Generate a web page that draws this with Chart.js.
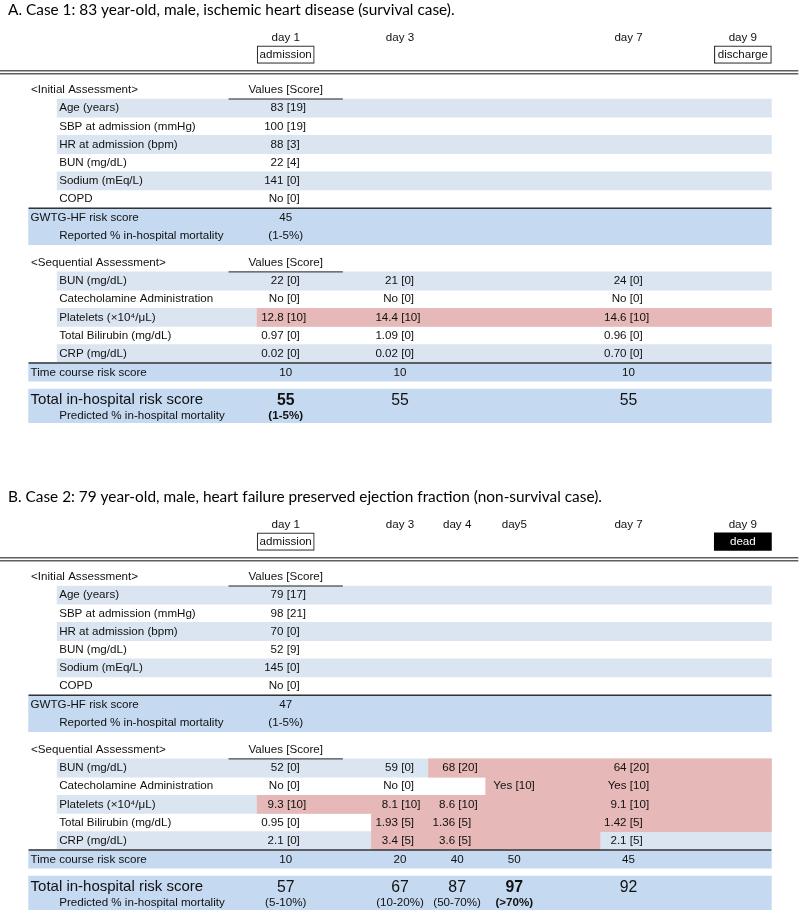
<!DOCTYPE html>
<html><head><meta charset="utf-8">
<script src="https://cdn.jsdelivr.net/npm/chart.js@4.4.1/dist/chart.umd.min.js"></script>
<style>html,body{margin:0;padding:0;background:#fff;}#wrap{width:800px;height:912px;}</style>
</head><body><div id="wrap"><canvas id="c" width="800" height="912"></canvas></div>
<script>
// ================= DATA =================
const titleA = 'A. Case 1: 83 year-old, male, ischemic heart disease (survival case).';
const titleB = 'B. Case 2: 79 year-old, male, heart failure preserved ejection fraction (non-survival case).';

const headerDaysA = [1, 3, 7, 9];
const headerLabelsA = ['day 1', 'day 3', 'day 7', 'day 9'];
const headerDaysB = [1, 3, 4, 5, 7, 9];
const headerLabelsB = ['day 1', 'day 3', 'day 4', 'day5', 'day 7', 'day 9'];

const eventDaysA = [1, 9];
const eventLabelsA = ['admission', 'discharge'];
const eventFilledA = [false, false];
const eventDaysB = [1, 9];
const eventLabelsB = ['admission', 'dead'];
const eventFilledB = [false, true];

const initialLabels = ['Age (years)', 'SBP at admission (mmHg)', 'HR at admission (bpm)', 'BUN (mg/dL)', 'Sodium (mEq/L)', 'COPD'];
const initialValuesA = ['83', '100', '88', '22', '141', 'No'];
const initialScoresA = [19, 19, 3, 4, 0, 0];
const initialValuesB = ['79', '98', '70', '52', '145', 'No'];
const initialScoresB = [17, 21, 0, 9, 0, 0];

const gwtgScoreA = '45';
const gwtgMortalityA = '(1-5%)';
const gwtgScoreB = '47';
const gwtgMortalityB = '(1-5%)';

const seqLabels = ['BUN (mg/dL)', 'Catecholamine Administration', 'Platelets (\u00d710\u2074/\u03bcL)', 'Total Bilirubin (mg/dL)', 'CRP (mg/dL)'];

const seqDaysA = [1, 3, 7];
const bunA = ['22', '21', '24'];           const bunScoreA = [0, 0, 0];
const catA = ['No', 'No', 'No'];           const catScoreA = [0, 0, 0];
const pltA = ['12.8', '14.4', '14.6'];     const pltScoreA = [10, 10, 10];
const tbilA = ['0.97', '1.09', '0.96'];    const tbilScoreA = [0, 0, 0];
const crpA = ['0.02', '0.02', '0.70'];     const crpScoreA = [0, 0, 0];
const timeScoreA = ['10', '10', '10'];
const totalScoreA = ['55', '55', '55'];
const totalBoldA = [true, false, false];
const predictedA = ['(1-5%)', '', ''];
const predictedBoldA = [true, false, false];

const seqDaysB = [1, 3, 4, 5, 7];
const bunB = ['52', '59', '68', null, '64'];        const bunScoreB = [0, 0, 20, null, 20];
const catB = ['No', 'No', null, 'Yes', 'Yes'];      const catScoreB = [0, 0, null, 10, 10];
const pltB = ['9.3', '8.1', '8.6', null, '9.1'];    const pltScoreB = [10, 10, 10, null, 10];
const tbilB = ['0.95', '1.93', '1.36', null, '1.42']; const tbilScoreB = [0, 5, 5, null, 5];
const crpB = ['2.1', '3.4', '3.6', null, '2.1'];    const crpScoreB = [0, 5, 5, null, 5];
const timeScoreB = ['10', '20', '40', '50', '45'];
const totalScoreB = ['57', '67', '87', '97', '92'];
const totalBoldB = [false, false, false, true, false];
const predictedB = ['(5-10%)', '(10-20%)', '(50-70%)', '(>70%)', ''];
const predictedBoldB = [false, false, false, true, false];

// highlighted (red) cells: sequential row index, first day, last day
const highlightRowsA = [2];
const highlightFromA = [1];
const highlightToA = [9];
const highlightRowsB = [0, 1, 2, 3, 4];
const highlightFromB = [4, 5, 1, 3, 3];
const highlightToB = [9, 9, 9, 9, 6];

// ================= LAYOUT (row units) =================
const ROW_PX = 18.2;
const Y_MIN = -99 / ROW_PX;
const Y_MAX = Y_MIN + 912 / ROW_PX;
const L = {
  title: -4.9, dayText: -3.35, box: -2.44, boxH: 0.97,
  dbl1: -1.55, dbl2: -1.39, initHead: -0.5,
  gwtgTop: 6, gwtgText: 6.52, reportText: 7.53,
  seqHead: 8.98, seqTop: 9.5, timeRow: 15.03,
  totalTop: 15.94, totalBot: 17.79, totalText: 16.55, predText: 17.43
};
const COL_LEFT = -4, COL_RIGHT = 10;
const BAND_L = -3, BAND_L2 = -3.5, BAND_R = 9.5;

const cases = [
  {offset: 0, title: titleA, headerDays: headerDaysA, headerLabels: headerLabelsA,
   eventDays: eventDaysA, eventLabels: eventLabelsA, eventFilled: eventFilledA,
   initValues: initialValuesA, initScores: initialScoresA, gwtg: gwtgScoreA, gwtgMort: gwtgMortalityA,
   seqDays: seqDaysA, seqValues: [bunA, catA, pltA, tbilA, crpA], seqScores: [bunScoreA, catScoreA, pltScoreA, tbilScoreA, crpScoreA],
   time: timeScoreA, total: totalScoreA, totalBold: totalBoldA, pred: predictedA, predBold: predictedBoldA,
   hlRows: highlightRowsA, hlFrom: highlightFromA, hlTo: highlightToA},
  {offset: 487 / ROW_PX, title: titleB, headerDays: headerDaysB, headerLabels: headerLabelsB,
   eventDays: eventDaysB, eventLabels: eventLabelsB, eventFilled: eventFilledB,
   initValues: initialValuesB, initScores: initialScoresB, gwtg: gwtgScoreB, gwtgMort: gwtgMortalityB,
   seqDays: seqDaysB, seqValues: [bunB, catB, pltB, tbilB, crpB], seqScores: [bunScoreB, catScoreB, pltScoreB, tbilScoreB, crpScoreB],
   time: timeScoreB, total: totalScoreB, totalBold: totalBoldB, pred: predictedB, predBold: predictedBoldB,
   hlRows: highlightRowsB, hlFrom: highlightFromB, hlTo: highlightToB}
];

// ================= COLORS =================
const C_LIGHT = '#dbe5f1', C_DARK = '#c5d9f1', C_PINK = '#e6b8b7', C_TXT = '#111111';

// ================= DATASETS =================
const lightRows = [], darkRows = [], gwtgRows = [], totalRows = [], pinkRows = [], openBoxes = [], filledBoxes = [];
const lines = [];
cases.forEach(c => {
  const o = c.offset;
  [0, 2, 4].forEach(i => lightRows.push({x: [BAND_L, BAND_R], y: o + i + 0.5}));
  [0, 2, 4].forEach(i => lightRows.push({x: [BAND_L, BAND_R], y: o + L.seqTop + i + 0.5}));
  darkRows.push({x: [BAND_L2, BAND_R], y: o + L.seqTop + 5.5});
  gwtgRows.push({x: [BAND_L2, BAND_R], y: o + L.gwtgTop + 1});
  totalRows.push({x: [BAND_L2, BAND_R], y: o + (L.totalTop + L.totalBot) / 2});
  c.hlRows.forEach((r, i) => pinkRows.push({x: [c.hlFrom[i] - 0.5, c.hlTo[i] + 0.5], y: o + L.seqTop + r + 0.5}));
  c.eventDays.forEach((d, i) => (c.eventFilled[i] ? filledBoxes : openBoxes).push({x: [d - 0.5, d + 0.5], y: o + L.box}));
  lines.push({pts: [[COL_LEFT, o + L.dbl1], [9.97, o + L.dbl1]], color: '#5e5e5e', w: 1.4});
  lines.push({pts: [[COL_LEFT, o + L.dbl2], [9.97, o + L.dbl2]], color: '#5e5e5e', w: 1.4});
  lines.push({pts: [[0, o], [2, o]], color: '#222', w: 1});
  lines.push({pts: [[0, o + L.seqTop], [2, o + L.seqTop]], color: '#222', w: 1});
  lines.push({pts: [[BAND_L2, o + L.gwtgTop], [BAND_R, o + L.gwtgTop]], color: '#333', w: 1.5});
  lines.push({pts: [[BAND_L2, o + L.seqTop + 5], [BAND_R, o + L.seqTop + 5]], color: '#333', w: 1.5});
});

function barSet(data, color, rows, order, extra) {
  return Object.assign({type: 'bar', indexAxis: 'y', data, backgroundColor: color, barThickness: rows * ROW_PX,
    grouped: false, borderWidth: 0, order}, extra || {});
}
const datasets = [
  barSet(lightRows, C_LIGHT, 1, 5),
  barSet(darkRows, C_DARK, 1, 5),
  barSet(gwtgRows, C_DARK, 2, 5),
  barSet(totalRows, C_DARK, L.totalBot - L.totalTop, 5),
  barSet(pinkRows, C_PINK, 1, 4),
  barSet(openBoxes, '#ffffff', L.boxH, 3, {borderWidth: 1.2, borderColor: '#333', borderSkipped: false}),
  barSet(filledBoxes, '#000000', L.boxH, 3, {borderWidth: 0})
];
lines.forEach(l => datasets.push({type: 'line', indexAxis: 'x', data: l.pts.map(p => ({x: p[0], y: p[1]})),
  borderColor: l.color, borderWidth: l.w, pointRadius: 0, fill: false, tension: 0, order: 0}));

// ================= TEXT =================
const FONT = '"Liberation Sans", Arial, sans-serif';
const FS = 11.6, BIG = 15;
let titleSize = 16;

function pair(ctx, ax, y, val, score) {
  if (val == null) return;
  ctx.textAlign = 'right'; ctx.fillText(val + ' ', ax, y);
  ctx.textAlign = 'left'; ctx.fillText('[' + score + ']', ax, y);
}

const textPlugin = {
  id: 'tableText',
  afterDatasetsDraw(chart) {
    const ctx = chart.ctx, xs = chart.scales.x, ys = chart.scales.y;
    const X = v => xs.getPixelForValue(v);
    ctx.save();
    ctx.font = '16px Lato';
    const tw = ctx.measureText(titleA).width;
    titleSize = 16 * 447 / tw;
    const norm = `${FS}px ${FONT}`, bold = `bold ${FS}px ${FONT}`;
    ctx.textBaseline = 'middle';
    cases.forEach(c => {
      const Y = r => ys.getPixelForValue(c.offset + r);
      ctx.fillStyle = '#000';
      ctx.font = `${titleSize}px Lato`; ctx.textAlign = 'left';
      ctx.fillText(c.title, X(COL_LEFT) + 8, Y(L.title));
      ctx.fillStyle = C_TXT; ctx.font = norm; ctx.textAlign = 'center';
      c.headerDays.forEach((d, i) => ctx.fillText(c.headerLabels[i], X(d), Y(L.dayText)));
      c.eventDays.forEach((d, i) => {
        ctx.fillStyle = c.eventFilled[i] ? '#fff' : C_TXT;
        ctx.fillText(c.eventLabels[i], X(d), Y(L.box) + 0.5);
      });
      ctx.fillStyle = C_TXT;
      // initial assessment
      ctx.textAlign = 'left';
      ctx.fillText('<Initial Assessment>', X(BAND_L2) + 2.5, Y(L.initHead));
      ctx.textAlign = 'center';
      ctx.fillText('Values [Score]', X(1), Y(L.initHead));
      initialLabels.forEach((lab, i) => {
        ctx.textAlign = 'left'; ctx.fillText(lab, X(BAND_L) + 2, Y(i + 0.5));
        pair(ctx, X(1) + 1, Y(i + 0.5), c.initValues[i], c.initScores[i]);
      });
      // GWTG
      ctx.textAlign = 'left';
      ctx.fillText('GWTG-HF risk score', X(BAND_L2) + 2, Y(L.gwtgText));
      ctx.fillText('Reported % in-hospital mortality', X(BAND_L) + 2, Y(L.reportText));
      ctx.textAlign = 'center';
      ctx.fillText(c.gwtg, X(1), Y(L.gwtgText));
      ctx.fillText(c.gwtgMort, X(1), Y(L.reportText));
      // sequential
      ctx.textAlign = 'left';
      ctx.fillText('<Sequential Assessment>', X(BAND_L2) + 2.5, Y(L.seqHead));
      ctx.textAlign = 'center';
      ctx.fillText('Values [Score]', X(1), Y(L.seqHead));
      seqLabels.forEach((lab, r) => {
        const yy = Y(L.seqTop + r + 0.5);
        ctx.textAlign = 'left'; ctx.fillText(lab, X(BAND_L) + 2, yy);
        c.seqDays.forEach((d, j) => pair(ctx, X(d) + 1.2, yy, c.seqValues[r][j], c.seqScores[r][j]));
      });
      // time course
      ctx.textAlign = 'left';
      ctx.fillText('Time course risk score', X(BAND_L2) + 2, Y(L.timeRow));
      ctx.textAlign = 'center';
      c.seqDays.forEach((d, j) => ctx.fillText(c.time[j], X(d), Y(L.timeRow)));
      // total
      ctx.font = `${BIG}px ${FONT}`; ctx.textAlign = 'left';
      ctx.fillText('Total in-hospital risk score', X(BAND_L2) + 2, Y(L.totalText));
      ctx.textAlign = 'center';
      c.seqDays.forEach((d, j) => {
        ctx.font = `${c.totalBold[j] ? 'bold ' : ''}${BIG + 0.8}px ${FONT}`;
        ctx.fillText(c.total[j], X(d), Y(L.totalText));
      });
      ctx.font = norm; ctx.textAlign = 'left';
      ctx.fillText('Predicted % in-hospital mortality', X(BAND_L) + 2, Y(L.predText));
      ctx.textAlign = 'center';
      c.seqDays.forEach((d, j) => {
        ctx.font = c.predBold[j] ? bold : norm;
        ctx.fillText(c.pred[j], X(d), Y(L.predText));
      });
    });
    ctx.restore();
  }
};

new Chart(document.getElementById('c'), {
  type: 'bar',
  data: {datasets},
  options: {
    responsive: false, animation: false, devicePixelRatio: 1, events: [],
    indexAxis: 'y',
    layout: {padding: 0},
    plugins: {legend: {display: false}, tooltip: {enabled: false}, title: {display: false}},
    scales: {
      x: {type: 'linear', min: COL_LEFT, max: COL_RIGHT, display: false, offset: false, grid: {display: false}},
      y: {type: 'linear', min: Y_MIN, max: Y_MAX, reverse: true, display: false, offset: false, grid: {display: false}}
    }
  },
  plugins: [textPlugin]
});
</script></body></html>
